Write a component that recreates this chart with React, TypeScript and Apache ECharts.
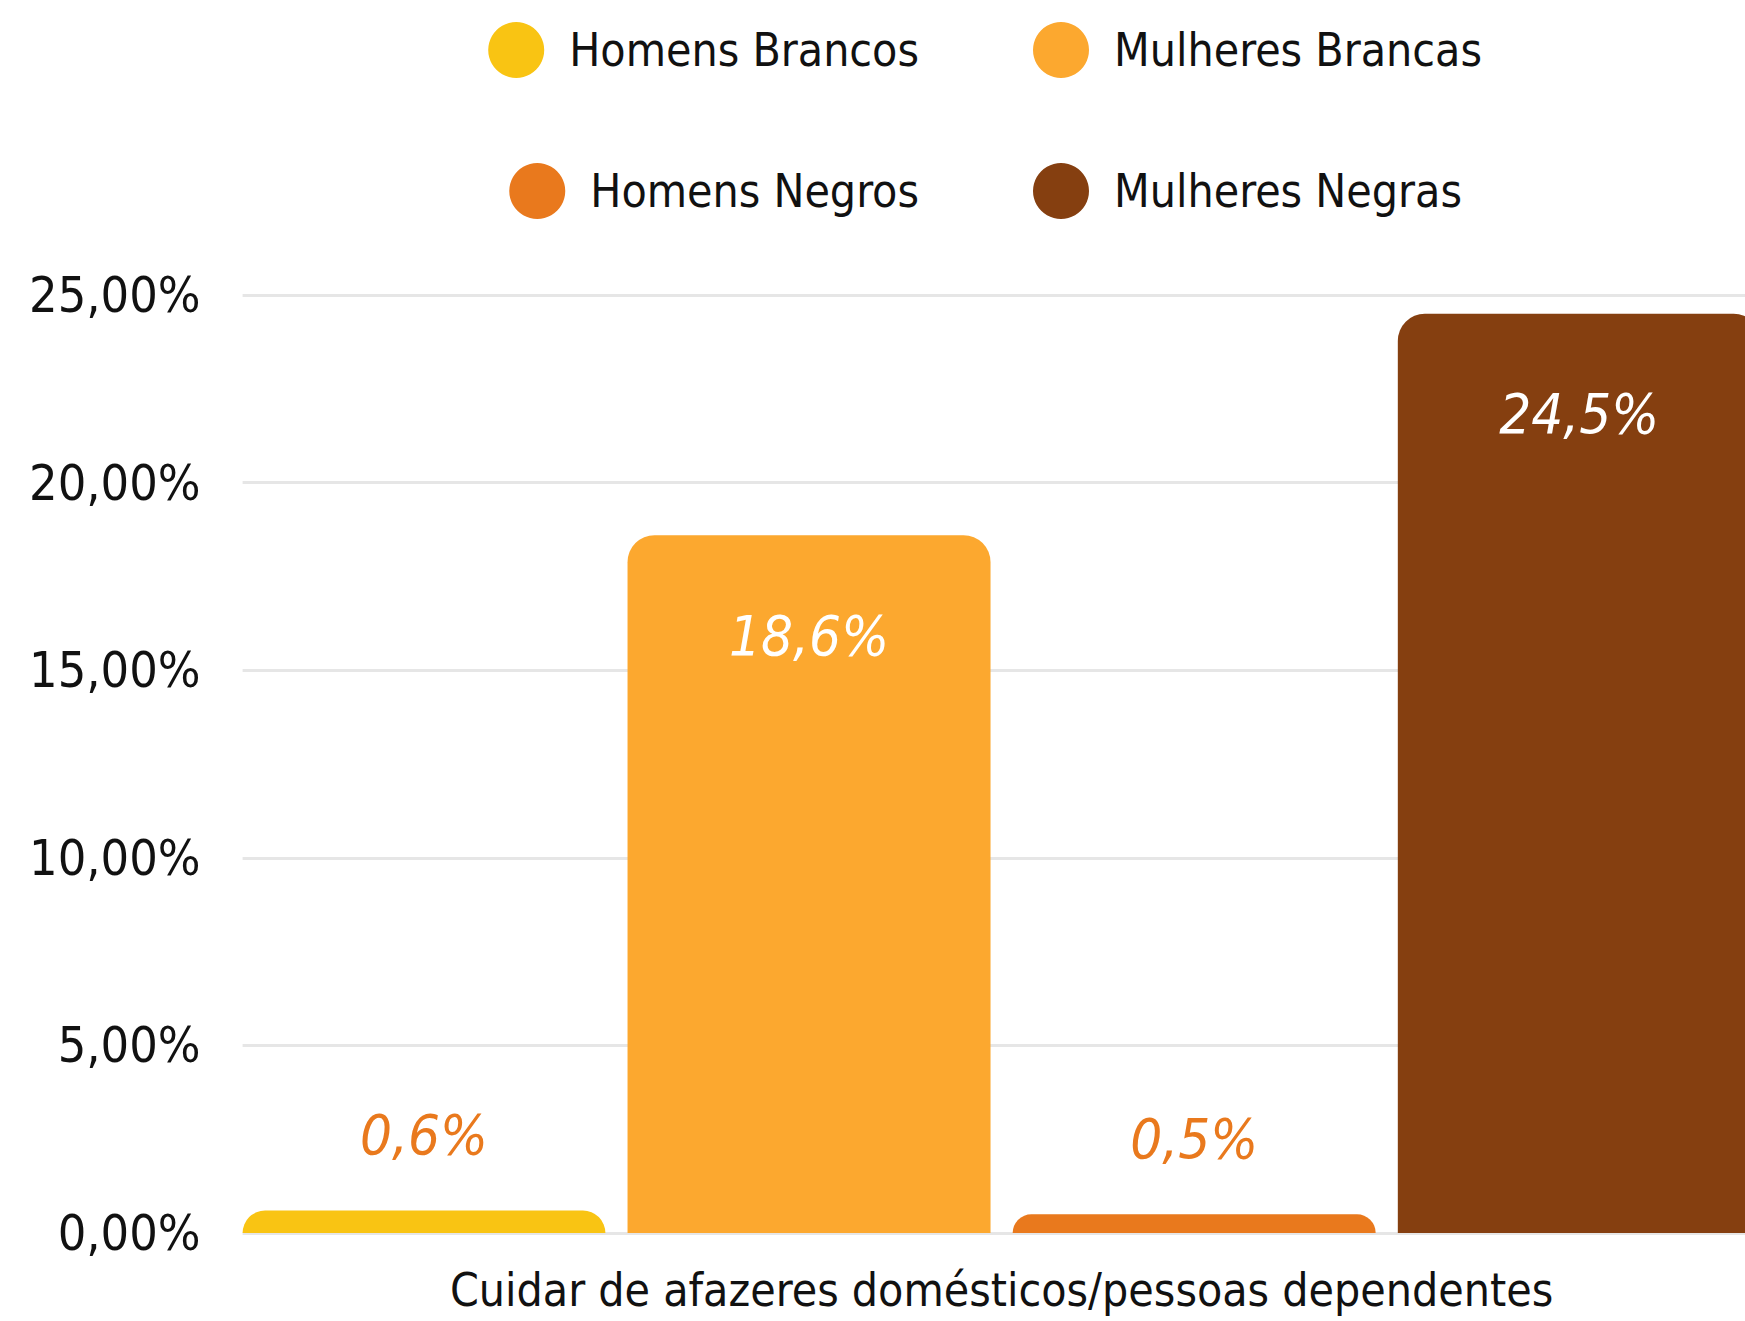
import React, { useEffect, useRef } from "react";
import * as echarts from "echarts";

const categories = ["Cuidar de afazeres domésticos/pessoas dependentes"];
const seriesNames = ["Homens Brancos", "Mulheres Brancas", "Homens Negros", "Mulheres Negras"];
const homensBrancos = [0.6];
const mulheresBrancas = [18.6];
const homensNegros = [0.5];
const mulheresNegras = [24.5];
const yTicks = [0, 5, 10, 15, 20, 25];

const colors = ["#F9C413", "#FCA82F", "#E9791D", "#853F10"];
const FONT = "'Liberation Sans Narrow', 'DejaVu Sans Condensed', 'Roboto', sans-serif";
const CHART_W = 1780;
const CHART_H = 1321;

export default function App() {
  const ref = useRef<HTMLDivElement>(null);
  useEffect(() => {
    if (!ref.current) return;
    const chart = echarts.init(ref.current, undefined, { renderer: "svg" });
    const values = [homensBrancos, mulheresBrancas, homensNegros, mulheresNegras];
    const fmt = (v: number) => v.toFixed(1).replace(".", ",") + "%";
    const legendBase = {
      icon: "circle",
      itemWidth: 56,
      itemHeight: 56,
      itemGap: 0,
      padding: 0,
      textStyle: { fontFamily: FONT, fontSize: 46, color: "#111", padding: [0, 0, 0, 20] },
    };
    const rightEdge = CHART_W - 919;
    const leftCol = 1033;
    chart.setOption({
      animation: false,
      backgroundColor: "#ffffff",
      legend: [
        { ...legendBase, data: [seriesNames[0]], right: rightEdge, top: 22 },
        { ...legendBase, data: [seriesNames[1]], left: leftCol, top: 22 },
        { ...legendBase, data: [seriesNames[2]], right: rightEdge, top: 163 },
        { ...legendBase, data: [seriesNames[3]], left: leftCol, top: 163 },
      ],
      grid: {
        left: 242.6,
        right: CHART_W - 1760.6,
        top: 295,
        bottom: CHART_H - 1233,
        containLabel: false,
        outerBoundsMode: "none",
      },
      xAxis: {
        type: "category",
        data: categories,
        axisLine: { show: false },
        axisTick: { show: false },
        axisLabel: {
          fontFamily: FONT,
          fontSize: 46,
          color: "#111",
          margin: 34,
        },
      },
      yAxis: {
        type: "value",
        min: yTicks[0],
        max: yTicks[yTicks.length - 1],
        interval: 5,
        axisLine: { show: false },
        axisTick: { show: false },
        splitLine: { lineStyle: { color: "#e6e6e6", width: 3 } },
        axisLabel: {
          fontFamily: FONT,
          fontSize: 50,
          color: "#111",
          margin: 42,
          formatter: (v: number) => v.toFixed(2).replace(".", ",") + "%",
        },
      },
      series: seriesNames.map((name, i) => {
        const big = values[i][0] > 5;
        return {
          name,
          type: "bar",
          data: values[i],
          barWidth: 363,
          barGap: "6.1%",
          barCategoryGap: 0,
          itemStyle: { color: colors[i], borderRadius: [27, 27, 0, 0] },
          label: {
            show: true,
            position: big ? "insideTop" : "top",
            distance: big ? 72 : 48,
            formatter: (p: any) => fmt(p.value),
            fontFamily: "'DejaVu Sans Condensed', 'Liberation Sans Narrow', sans-serif",
            fontSize: 56,
            fontStyle: "italic",
            color: big ? "#ffffff" : "#E9791D",
          },
        };
      }),
    });
    return () => chart.dispose();
  }, []);
  return (
    <div style={{ position: "absolute", left: 0, top: 0, width: 1745, height: CHART_H, overflow: "hidden", background: "#fff" }}>
      <div ref={ref} style={{ width: CHART_W, height: CHART_H }} />
    </div>
  );
}
